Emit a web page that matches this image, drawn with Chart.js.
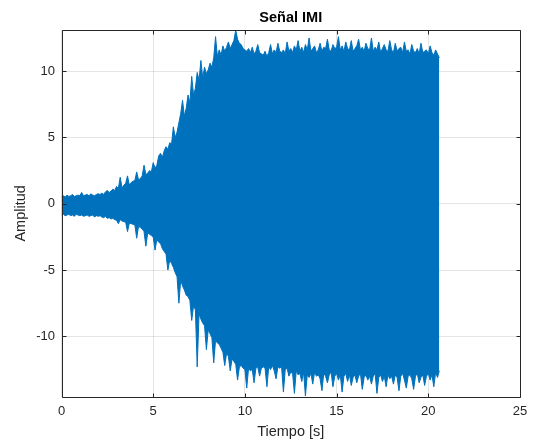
<!DOCTYPE html>
<html>
<head>
<meta charset="utf-8">
<script src="https://cdn.jsdelivr.net/npm/chart.js@4.4.1/dist/chart.umd.min.js"></script>
<style>
html,body{margin:0;padding:0;background:#fff;}
#wrap{width:535px;height:445px;position:relative;}
</style>
</head>
<body>
<div id="wrap"><canvas id="c" width="535" height="445"></canvas></div>
<script>
// Sampling step of the envelope readings (s)
const dt = 0.1;
// Upper envelope of the signal, t = 0.0 ... 20.6 s
const upperEnv = [
 0.55,0.6,0.5,0.65,0.55,0.6,0.7,0.55,0.6,0.65,
 0.6,0.85,0.6,0.65,0.7,0.6,0.75,0.65,0.6,0.7,
 0.75,0.7,0.8,0.7,0.9,1.0,0.85,0.95,1.1,1.0,
 1.3,1.15,2.0,1.2,1.4,1.55,2.1,1.4,1.6,1.7,
 1.75,2.4,1.8,1.9,2.1,2.9,2.2,2.3,2.5,2.4,
 3.1,2.7,2.9,3.6,3.8,3.5,4.0,4.3,4.1,4.6,
 4.5,5.8,5.0,5.4,6.1,6.8,7.8,6.6,7.2,8.2,
 7.6,9.6,8.2,8.7,9.9,9.3,10.8,9.5,10.3,9.8,
 10.1,10.6,10.3,11.0,12.6,11.1,11.6,11.2,11.9,11.5,
 11.8,12.2,11.7,12.0,12.3,13.1,12.4,12.1,12.0,11.7,
 11.6,11.5,11.7,11.4,11.8,11.3,11.5,12.0,11.4,11.3,
 11.2,11.5,11.1,11.4,12.0,11.3,11.6,11.4,12.1,11.5,
 11.4,11.6,11.3,12.2,11.5,11.7,11.4,11.9,11.6,12.3,
 11.5,11.8,11.4,12.0,11.6,12.5,11.5,11.7,11.9,11.4,
 11.6,12.1,11.5,11.8,11.7,12.4,11.6,11.5,12.0,11.7,
 11.8,12.6,11.6,11.9,11.5,12.2,11.7,11.6,12.3,11.5,
 11.7,11.9,12.4,11.6,11.8,11.5,12.1,11.7,11.6,12.5,
 11.5,11.8,11.6,12.2,11.4,11.7,12.0,11.6,11.5,12.3,
 11.6,11.4,12.1,11.5,11.7,11.8,11.4,12.2,11.5,11.6,
 11.3,12.0,11.5,11.4,11.7,11.3,12.1,11.4,11.5,11.6,
 11.3,11.9,11.4,11.2,11.6,11.3,11.0
];
// Lower envelope of the signal, t = 0.0 ... 20.6 s
const lowerEnv = [
 -0.85,-0.8,-0.9,-0.85,-0.8,-0.9,-0.85,-0.95,-0.8,-0.85,
 -0.9,-0.85,-0.95,-0.9,-0.85,-0.95,-0.9,-0.85,-1.0,-0.9,
 -0.95,-0.9,-1.0,-1.05,-0.95,-1.1,-1.05,-1.15,-1.1,-1.2,
 -1.25,-1.5,-1.2,-1.3,-1.35,-1.4,-2.1,-1.45,-1.5,-1.55,
 -1.6,-2.6,-1.7,-1.8,-1.9,-2.1,-3.2,-2.2,-2.3,-2.4,
 -2.5,-3.5,-2.7,-2.9,-3.0,-3.4,-3.6,-3.8,-5.0,-4.25,
 -4.5,-4.8,-5.2,-5.5,-7.5,-5.75,-6.2,-6.5,-6.9,-7.0,
 -7.3,-8.8,-7.7,-8.0,-12.3,-8.3,-8.7,-9.0,-9.2,-11.0,
 -9.5,-9.8,-10.1,-12.0,-10.3,-10.5,-10.6,-10.9,-11.2,-12.2,
 -11.3,-11.5,-12.6,-11.7,-11.9,-12.1,-13.3,-12.3,-12.2,-12.4,
 -12.5,-13.9,-12.4,-12.6,-12.5,-13.5,-12.4,-12.3,-13.0,-12.4,
 -12.3,-12.4,-13.8,-12.3,-12.5,-12.2,-12.6,-13.2,-12.3,-12.4,
 -12.3,-14.2,-12.5,-12.4,-13.0,-12.7,-12.8,-14.3,-12.6,-12.9,
 -12.8,-13.4,-12.7,-14.5,-12.9,-13.1,-12.8,-13.6,-12.7,-13.0,
 -12.9,-13.2,-14.1,-12.8,-13.0,-13.5,-12.9,-12.7,-13.8,-13.0,
 -12.8,-13.3,-12.9,-14.2,-13.0,-12.8,-13.4,-12.9,-13.7,-13.1,
 -12.9,-13.5,-13.0,-12.8,-14.0,-13.1,-12.9,-13.3,-13.0,-13.6,
 -13.0,-12.8,-14.3,-13.1,-12.9,-13.4,-13.0,-13.8,-12.9,-13.2,
 -13.0,-13.6,-12.9,-13.1,-14.1,-13.0,-12.8,-13.3,-13.9,-13.0,
 -12.9,-13.2,-14.0,-13.0,-12.8,-13.5,-13.1,-12.9,-13.7,-13.0,
 -12.8,-13.3,-12.9,-13.8,-12.7,-13.1,-12.6
];
const xTicks = [0, 5, 10, 15, 20, 25];
const yTicks = [-10, -5, 0, 5, 10];
const xLimits = [0, 25];
const yLimits = [-14.55, 13.1];
const titleText = 'Señal IMI';

const times = upperEnv.map((_, i) => +(i * dt).toFixed(2));
const upperPts = upperEnv.map((v, i) => ({x: times[i], y: v}));
const lowerPts = lowerEnv.map((v, i) => ({x: times[i], y: v}));

const BLUE = '#0072BD';
const AXC = '#262626';
const FONT = "'Liberation Sans', Arial, Helvetica, sans-serif";

const boxPlugin = {
  id: 'box',
  afterDraw(chart) {
    const {ctx, chartArea: a, scales: {x, y}} = chart;
    ctx.save();
    ctx.strokeStyle = AXC;
    ctx.lineWidth = 1;
    ctx.beginPath();
    const L = Math.round(a.left) + 0.5, R = Math.round(a.right) + 0.5;
    const T = Math.round(a.top) + 0.5, B = Math.round(a.bottom) + 0.5;
    ctx.rect(L, T, R - L, B - T);
    const tl = 4;
    x.ticks.forEach(t => {
      const px = Math.round(x.getPixelForValue(t.value)) + 0.5;
      ctx.moveTo(px, B); ctx.lineTo(px, B - tl);
      ctx.moveTo(px, T); ctx.lineTo(px, T + tl);
    });
    y.ticks.forEach(t => {
      const py = Math.round(y.getPixelForValue(t.value)) + 0.5;
      ctx.moveTo(L, py); ctx.lineTo(L + tl, py);
      ctx.moveTo(R, py); ctx.lineTo(R - tl, py);
    });
    ctx.stroke();
    // title centred over the axes box
    ctx.fillStyle = '#000';
    ctx.font = 'bold 14.5px ' + FONT;
    ctx.textAlign = 'center';
    ctx.textBaseline = 'middle';
    ctx.fillText(titleText, (a.left + a.right) / 2, 18);
    ctx.restore();
  }
};

new Chart(document.getElementById('c'), {
  type: 'line',
  data: {
    datasets: [
      {data: upperPts, borderColor: BLUE, backgroundColor: BLUE, borderWidth: 1, pointRadius: 0, fill: '+1', tension: 0},
      {data: lowerPts, borderColor: BLUE, backgroundColor: BLUE, borderWidth: 1, pointRadius: 0, fill: false, tension: 0}
    ]
  },
  options: {
    responsive: false,
    animation: false,
    events: [],
    layout: {padding: {left: 0, right: 15, top: 30, bottom: 0}},
    plugins: {
      legend: {display: false},
      tooltip: {enabled: false},
      title: {display: false}
    },
    scales: {
      x: {
        type: 'linear',
        min: xLimits[0], max: xLimits[1],
        afterBuildTicks: s => { s.ticks = xTicks.map(v => ({value: v})); },
        afterFit: s => { s.height = 48.3; },
        grid: {color: 'rgba(38,38,38,0.12)', drawTicks: false},
        border: {display: false},
        ticks: {color: AXC, padding: 7, font: {family: FONT, size: 13}, maxRotation: 0},
        title: {display: true, text: 'Tiempo [s]', color: AXC, font: {family: FONT, size: 14.5}, padding: {top: 0, bottom: 4.8}}
      },
      y: {
        type: 'linear',
        min: yLimits[0], max: yLimits[1],
        afterBuildTicks: s => { s.ticks = yTicks.map(v => ({value: v})); },
        afterFit: s => { s.width = 61.5; },
        grid: {color: 'rgba(38,38,38,0.12)', drawTicks: false},
        border: {display: false},
        ticks: {color: AXC, padding: 6.5, font: {family: FONT, size: 13}},
        title: {display: true, text: 'Amplitud', color: AXC, font: {family: FONT, size: 14.5}, padding: {top: 12, bottom: 0}}
      }
    }
  },
  plugins: [boxPlugin]
});
</script>
</body>
</html>
